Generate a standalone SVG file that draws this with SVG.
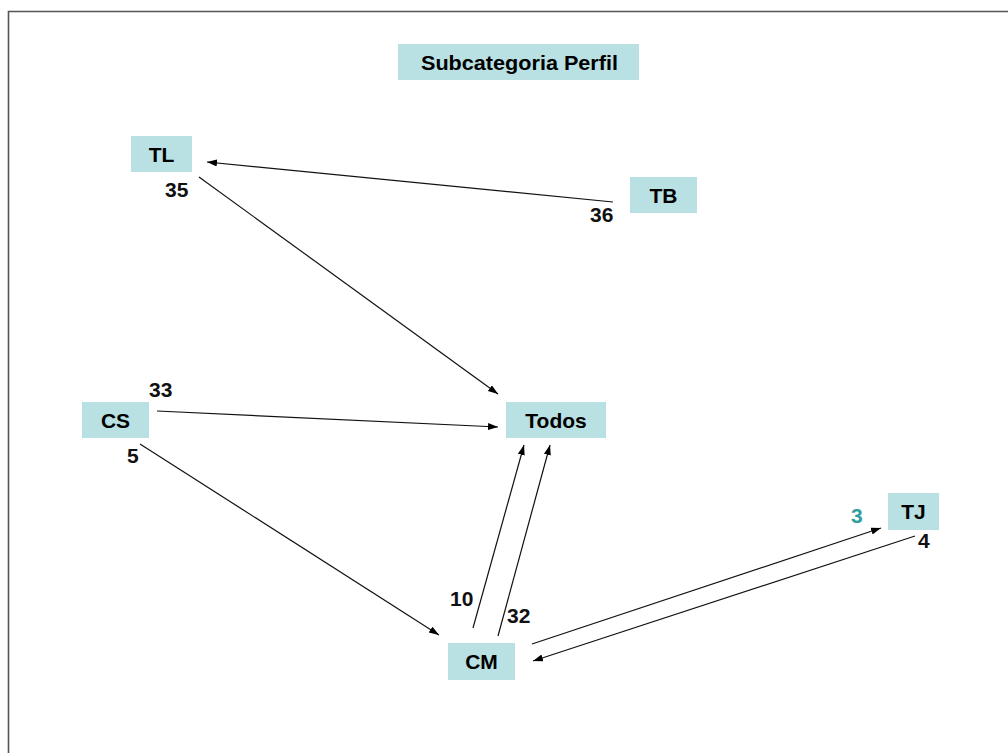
<svg xmlns="http://www.w3.org/2000/svg" width="1008" height="753" viewBox="0 0 1008 753">
  <style>
    .box { fill: #b9e0e3; }
    .lbl { font-family: "Liberation Sans", Arial, sans-serif; font-weight: bold; font-size: 21px; fill: #000; text-anchor: middle; }
    .num { font-family: "Liberation Sans", Arial, sans-serif; font-weight: bold; font-size: 21px; fill: #111; }
    .edge { stroke: #111; stroke-width: 1.2; fill: none; marker-end: url(#arrow); }
  </style>
  <defs>
    <marker id="arrow" markerUnits="userSpaceOnUse" markerWidth="11" markerHeight="8" refX="10" refY="3.5" orient="auto">
      <path d="M0,0 L10,3.5 L0,7 z" fill="#000"/>
    </marker>
  </defs>

  <rect width="1008" height="753" fill="#fff"/>
  <!-- page frame -->
  <path d="M8.5,753 V11.5 H1008" fill="none" stroke="#555" stroke-width="1.6"/>

  <!-- title -->
  <g id="title">
    <rect class="box" x="398" y="44" width="241" height="36"/>
    <text x="421" y="69.5" font-family="'Liberation Sans', Arial, sans-serif" font-weight="bold" font-size="20" textLength="197" lengthAdjust="spacingAndGlyphs">Subcategoria Perfil</text>
  </g>

  <!-- connectors -->
  <g id="connectors">
    <line class="edge" x1="613" y1="202" x2="207" y2="162"/>
    <line class="edge" x1="199" y1="177" x2="498" y2="394"/>
    <line class="edge" x1="157" y1="411" x2="498" y2="427"/>
    <line class="edge" x1="140" y1="444" x2="439" y2="635"/>
    <line class="edge" x1="473" y1="628" x2="524" y2="445"/>
    <line class="edge" x1="498" y1="636" x2="550" y2="445"/>
    <line class="edge" x1="532" y1="644" x2="881" y2="528"/>
    <line class="edge" x1="915" y1="536" x2="533" y2="661"/>
  </g>

  <!-- nodes -->
  <g id="node-TL">
    <rect class="box" x="131" y="136" width="61" height="36"/>
    <text class="lbl" x="161.5" y="161.5">TL</text>
  </g>
  <g id="node-TB">
    <rect class="box" x="630" y="177" width="67" height="36"/>
    <text class="lbl" x="663.5" y="202.5">TB</text>
  </g>
  <g id="node-CS">
    <rect class="box" x="82" y="402" width="67" height="36"/>
    <text class="lbl" x="115.5" y="427.5">CS</text>
  </g>
  <g id="node-Todos">
    <rect class="box" x="506" y="402" width="100" height="36"/>
    <text class="lbl" x="556" y="428">Todos</text>
  </g>
  <g id="node-TJ">
    <rect class="box" x="888" y="493" width="51" height="37"/>
    <text class="lbl" x="913.5" y="519">TJ</text>
  </g>
  <g id="node-CM">
    <rect class="box" x="448" y="643" width="67" height="37"/>
    <text class="lbl" x="481.5" y="669">CM</text>
  </g>

  <!-- edge counts -->
  <g id="counts">
    <text class="num" x="165" y="197">35</text>
    <text class="num" x="590" y="222">36</text>
    <text class="num" x="149" y="397">33</text>
    <text class="num" x="127" y="463">5</text>
    <text class="num" x="450" y="606">10</text>
    <text class="num" x="507" y="623">32</text>
    <text class="num" x="851" y="523" style="fill:#2f9e9e">3</text>
    <text class="num" x="918" y="548">4</text>
  </g>
</svg>
